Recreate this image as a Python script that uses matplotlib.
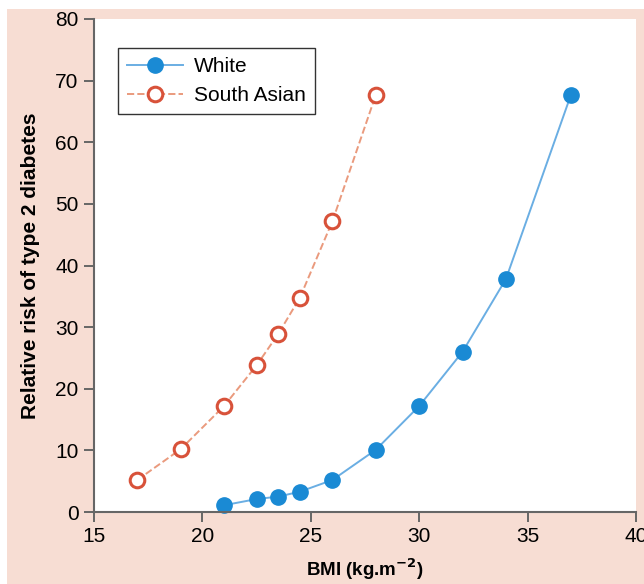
import matplotlib
matplotlib.use("Agg")
import matplotlib.pyplot as plt
from matplotlib.patches import Rectangle

plt.rcParams['font.family'] = ['Liberation Sans', 'DejaVu Sans']

# BMI vs relative risk of type 2 diabetes
bmi_white = [21, 22.5, 23.5, 24.5, 26, 28, 30, 32, 34, 37]
risk_white = [1.1, 2.1, 2.5, 3.3, 5.2, 10.1, 17.2, 26.0, 37.8, 67.7]
bmi_sa = [17, 19, 21, 22.5, 23.5, 24.5, 26, 28]
risk_sa = [5.2, 10.2, 17.2, 23.8, 28.9, 34.8, 47.2, 67.7]

pink = '#f7ddd3'
blue = '#1a8ad4'
blue_line = '#6aaee3'
red = '#d8523a'
red_line = '#ea9a7d'
grey = '#666666'

fig = plt.figure(figsize=(6.44, 5.84), dpi=100)
fig.patch.set_facecolor('white')
fig.patches.append(Rectangle((7 / 644, 0), 1, 1 - 9 / 584, transform=fig.transFigure,
                             facecolor=pink, edgecolor='none', zorder=-10))

ax = fig.add_axes([94 / 644, 1 - 512 / 584, (636 - 94) / 644, (512 - 19) / 584])
ax.set_facecolor('white')

ax.plot(bmi_white, risk_white, '-', color=blue_line, lw=1.4, marker='o', ms=11,
        mfc=blue, mec=blue, label='White', clip_on=False)
ax.plot(bmi_sa, risk_sa, '--', color=red_line, lw=1.4, marker='o', ms=10.5,
        mfc='white', mec=red, mew=2.2, label='South Asian', clip_on=False)

ax.set_xlim(15, 40)
ax.set_ylim(0, 80)
ax.set_xticks([15, 20, 25, 30, 35, 40])
ax.set_yticks(range(0, 81, 10))
for s in ['top', 'right']:
    ax.spines[s].set_visible(False)
for s in ['left', 'bottom']:
    ax.spines[s].set_color(grey)
    ax.spines[s].set_linewidth(1.5)
ax.tick_params(direction='out', length=7, width=1.4, color=grey, labelsize=15, pad=4)

ax.set_xlabel('BMI (kg.m$^{\\mathbf{-2}}$)', fontsize=13.5, fontweight='bold', labelpad=7)
ax.set_ylabel('Relative risk of type 2 diabetes', fontsize=15, fontweight='bold', labelpad=11)

leg = ax.legend(loc='upper left', bbox_to_anchor=(0.044, 0.941), fontsize=15,
                frameon=True, fancybox=False, handlelength=2.7, borderpad=0.45,
                labelspacing=0.45, handletextpad=0.5, borderaxespad=0)
leg.get_frame().set_edgecolor('black')
leg.get_frame().set_linewidth(1.0)

fig.savefig('out.png', dpi=100, facecolor=fig.get_facecolor())
